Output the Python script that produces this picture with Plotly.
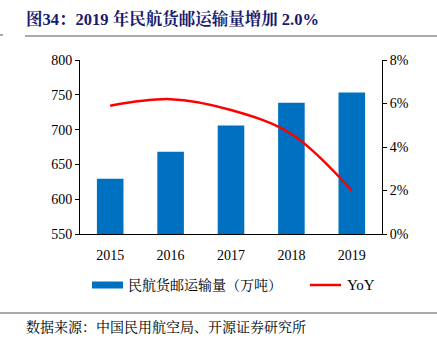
import plotly.graph_objects as go

years = ["2015", "2016", "2017", "2018", "2019"]
cargo = [629.3, 668.0, 705.9, 738.5, 753.2]
yoy = [5.9, 6.2, 5.7, 4.6, 2.0]
bar_name = "民航货邮运输量（万吨）"
line_name = "YoY"

serif = "Liberation Serif, Times New Roman, Noto Serif CJK SC, Noto Sans CJK SC"
BLUE = "#0070C0"
RED = "#FF0000"

fig = go.Figure()
fig.add_trace(go.Bar(x=years, y=cargo, name=bar_name, showlegend=False,
                     marker=dict(color=BLUE, line=dict(width=0)), width=0.44))
fig.add_trace(go.Scatter(x=years, y=yoy, name=line_name, yaxis="y2", mode="lines", showlegend=False,
                         line=dict(color=RED, width=2.5, shape="spline", smoothing=1.0)))

W, H = 437, 351
L, R, T, B = 80, 55, 60, 117
fig.update_layout(
    width=W, height=H,
    margin=dict(l=L, r=R, t=T, b=B),
    paper_bgcolor="white", plot_bgcolor="white",
    font=dict(family=serif, size=14, color="black"),
    showlegend=False,
    xaxis=dict(showline=True, linecolor="black", linewidth=1, ticks="", showgrid=False,
               tickfont=dict(size=14), ticklabelstandoff=8),
    yaxis=dict(range=[550, 800], dtick=50, showline=True, linecolor="black", linewidth=1,
               ticks="outside", ticklen=4, tickcolor="black", showgrid=False, zeroline=False,
               tickfont=dict(size=14)),
    yaxis2=dict(range=[0, 8], dtick=2, overlaying="y", side="right", showline=True,
                linecolor="black", linewidth=1, ticks="outside", ticklen=4, tickcolor="black",
                showgrid=False, zeroline=False, ticksuffix="%", tickfont=dict(size=14)),
)

pw = W - L - R
ph = H - T - B
def px(x):
    return (x - L) / pw
def py(y):
    return (H - B - y) / ph

# title
fig.add_annotation(text="<b>图34：2019 年民航货邮运输量增加 2.0%</b>", xref="paper", yref="paper",
                   x=px(24), y=py(19), xanchor="left", yanchor="middle", showarrow=False,
                   font=dict(size=16.5, color="#1A1A6E", family=serif))
fig.add_shape(type="line", xref="paper", yref="paper", x0=px(25), x1=px(437), y0=py(36), y1=py(36),
              line=dict(color="#555555", width=1))
fig.add_shape(type="line", xref="paper", yref="paper", x0=px(0), x1=px(3), y0=py(35), y1=py(35),
              line=dict(color="#555555", width=1))

# legend (manual)
ly = 285
fig.add_shape(type="rect", xref="paper", yref="paper", x0=px(92), x1=px(123), y0=py(ly - 3.5), y1=py(ly + 3.5),
              fillcolor=BLUE, line=dict(width=0))
fig.add_annotation(text=bar_name, xref="paper", yref="paper", x=px(126), y=py(ly),
                   xanchor="left", yanchor="middle", showarrow=False, font=dict(size=14, family=serif))
fig.add_shape(type="line", xref="paper", yref="paper", x0=px(310), x1=px(341), y0=py(ly), y1=py(ly),
              line=dict(color=RED, width=2.5))
fig.add_annotation(text=line_name, xref="paper", yref="paper", x=px(345), y=py(ly),
                   xanchor="left", yanchor="middle", showarrow=False, font=dict(size=15, family=serif))

# source
fig.add_shape(type="line", xref="paper", yref="paper", x0=px(0), x1=px(437), y0=py(313), y1=py(313),
              line=dict(color="#555555", width=1))
fig.add_annotation(text="数据来源：中国民用航空局、开源证券研究所", xref="paper", yref="paper",
                   x=px(24), y=py(327), xanchor="left", yanchor="middle", showarrow=False,
                   font=dict(size=14, color="black", family=serif))

fig.write_html("out.html")
